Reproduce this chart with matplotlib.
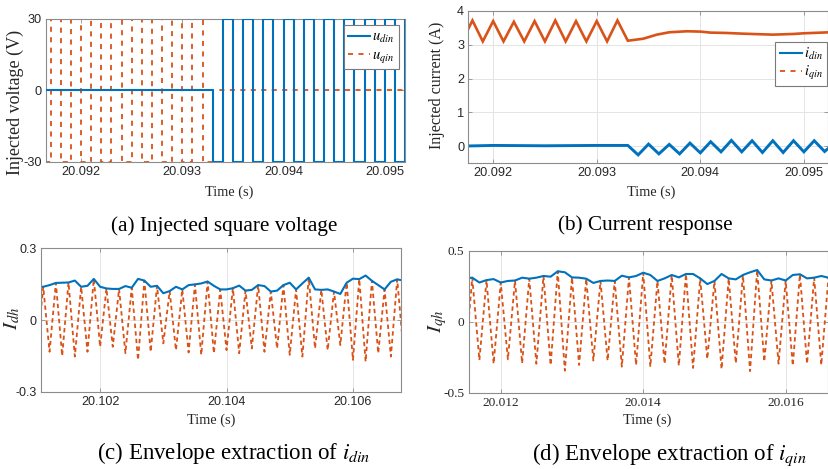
import numpy as np
import matplotlib
matplotlib.use('Agg')
import matplotlib.pyplot as plt
from matplotlib.lines import Line2D

plt.rcParams['mathtext.fontset'] = 'stix'
plt.rcParams['axes.unicode_minus'] = False

BLUE = '#0072BD'
ORANGE = '#D95319'
SPINE = '#8c8c8c'
GRID = '#e4e4e4'
SERIF = ['Liberation Serif', 'DejaVu Serif']
SANS = ['Liberation Sans', 'DejaVu Sans']

# ---------------- data ----------------
# (a) injected square voltage: levels on 0.1 ms intervals starting at 20.0915 s
a_t0, a_dt = 20.0915, 0.0001
u_qin = [30, -30, 30, -30, 30, -30, 30, -30, 30, -30, 30, -30, 30, -30, 30, -30, 30, -30,
         0, 0, 0, 0, 0, 0, 0, 0, 0, 0, 0, 0, 0, 0, 0, 0, 0, 0, 0, 0]
u_din = [0, 0, 0, 0, 0, 0, 0, 0, 0, 0, 0, 0, 0, 0, 0, 0, 0, 0,
         -30, 30, -30, 30, -30, 30, -30, 30, -30, 30, -30, 30, -30, 30, -30, 30, -30, 30, -30, 30]

# (b) current response (vertices)
t_iq = [20.0917, 20.0918, 20.0919, 20.0920, 20.0921, 20.0922, 20.0923, 20.0924, 20.0925,
        20.0926, 20.0927, 20.0928, 20.0929, 20.0930, 20.0931, 20.0932, 20.0933,
        20.09345, 20.09358, 20.0937, 20.09387, 20.0940, 20.0941, 20.09425, 20.0944,
        20.0946, 20.0947, 20.0949, 20.0950, 20.09525]
i_qin = [3.10, 3.72, 3.10, 3.70, 3.10, 3.68, 3.10, 3.70, 3.10,
         3.72, 3.10, 3.70, 3.10, 3.70, 3.10, 3.72, 3.12,
         3.18, 3.30, 3.37, 3.40, 3.39, 3.36, 3.35, 3.33,
         3.31, 3.30, 3.32, 3.34, 3.37]
t_id = [20.0917, 20.0920, 20.0925, 20.0930, 20.0933,
        20.0934, 20.0935, 20.0936, 20.0937, 20.0938, 20.0939, 20.0940, 20.0941,
        20.0942, 20.0943, 20.0944, 20.0945, 20.0946, 20.0947, 20.0948, 20.0949,
        20.0950, 20.0951, 20.0952, 20.0953]
i_din = [0.00, 0.02, 0.01, 0.02, 0.02,
         -0.26, 0.06, -0.23, 0.05, -0.23, 0.09, -0.20, 0.13,
         -0.17, 0.17, -0.17, 0.16, -0.19, 0.16, -0.19, 0.16,
         -0.17, 0.16, -0.16, 0.10]

# (c) envelope extraction of i_din, samples every 0.1 ms from 20.1010 s
c_t0, c_dt = 20.1010, 0.0001
i_dh = [-0.13,
        0.139, -0.133, 0.155, -0.150, 0.157, -0.153, 0.139, -0.133, 0.172, -0.112,
        0.132, -0.112, 0.130, -0.139, 0.135, -0.167, 0.165, -0.133, 0.143, -0.098,
        0.121, -0.126, 0.128, -0.136, 0.149, -0.146, 0.161, -0.139, 0.128, -0.126,
        0.133, -0.139, 0.123, -0.119, 0.146, -0.133, 0.119, -0.119, 0.146, -0.146,
        0.128, -0.153, 0.177, -0.119, 0.126, -0.126, 0.119, -0.105, 0.156, -0.167,
        0.171, -0.174, 0.164, -0.139, 0.128, -0.153, 0.170, -0.130]
env_d = [0.139,
         0.139, 0.146, 0.155, 0.156, 0.157, 0.165, 0.139, 0.143, 0.172, 0.139,
         0.132, 0.130, 0.130, 0.142, 0.135, 0.172, 0.165, 0.139, 0.143, 0.112,
         0.121, 0.139, 0.128, 0.146, 0.149, 0.153, 0.161, 0.143, 0.128, 0.128,
         0.133, 0.144, 0.123, 0.126, 0.146, 0.142, 0.119, 0.123, 0.146, 0.156,
         0.128, 0.153, 0.177, 0.128, 0.126, 0.128, 0.119, 0.109, 0.156, 0.173,
         0.171, 0.186, 0.164, 0.146, 0.128, 0.160, 0.170, 0.165]

# (d) envelope extraction of i_qin, samples every 0.1 ms from 20.0115 s
d_t0, d_dt = 20.0115, 0.0001
i_qh = [-0.28,
        0.310, -0.270, 0.293, -0.296, 0.276, -0.265, 0.290, -0.293, 0.303, -0.296,
        0.322, -0.305, 0.355, -0.345, 0.312, -0.305, 0.303, -0.274, 0.287, -0.274,
        0.287, -0.317, 0.312, -0.305, 0.345, -0.317, 0.287, -0.296, 0.329, -0.310,
        0.336, -0.326, 0.305, -0.262, 0.287, -0.333, 0.305, -0.293, 0.329, -0.348,
        0.364, -0.281, 0.290, -0.296, 0.290, -0.310, 0.334, -0.296, 0.310, -0.305,
        0.310]
env_q = [0.305,
         0.310, 0.276, 0.293, 0.300, 0.276, 0.287, 0.290, 0.310, 0.303, 0.310,
         0.322, 0.317, 0.355, 0.348, 0.312, 0.310, 0.303, 0.273, 0.287, 0.290,
         0.287, 0.324, 0.312, 0.322, 0.345, 0.329, 0.287, 0.305, 0.329, 0.312,
         0.336, 0.336, 0.305, 0.265, 0.287, 0.336, 0.305, 0.298, 0.329, 0.348,
         0.364, 0.298, 0.290, 0.305, 0.290, 0.329, 0.334, 0.305, 0.310, 0.322,
         0.310]

a_xticks = [20.092, 20.093, 20.094, 20.095]
a_yticks = [-30, 0, 30]
b_xticks = [20.092, 20.093, 20.094, 20.095]
b_yticks = [0, 1, 2, 3, 4]
c_xticks = [20.102, 20.104, 20.106]
c_yticks = [-0.3, 0, 0.3]
d_xticks = [20.012, 20.014, 20.016]
d_yticks = [-0.5, 0, 0.5]

# ---------------- figure ----------------
W, H = 829, 469
fig = plt.figure(figsize=(W / 100, H / 100), dpi=100)
fig.patch.set_facecolor('white')


def px_axes(l, t, r, b):
    return fig.add_axes([l / W, 1 - b / H, (r - l) / W, (b - t) / H])


def style(ax, xticks, yticks, xfmt, yfmt, fam, fs, grid):
    for s in ax.spines.values():
        s.set_color(SPINE)
        s.set_linewidth(0.8)
    ax.set_xticks(xticks)
    ax.set_yticks(yticks)
    ax.set_xticklabels([xfmt.format(v) for v in xticks], fontfamily=fam, fontsize=fs, color='#262626')
    ax.set_yticklabels([yfmt(v) for v in yticks], fontfamily=fam, fontsize=fs, color='#262626')
    ax.tick_params(direction='in', length=3, width=0.6, color=SPINE, top=True, right=True, pad=3)
    if grid:
        ax.grid(True, color=GRID, linewidth=0.7)
        ax.set_axisbelow(True)


def labels(ax, xl, xpos, yl, ypos, yfs, yfam=SERIF):
    ax.set_xlabel(xl, fontfamily=SERIF, fontsize=10.3, color='#262626')
    ax.xaxis.label.set_va('center')
    ax.xaxis.set_label_coords(*xpos)
    ax.set_ylabel(yl, fontfamily=yfam, fontsize=yfs, color='#262626')
    ax.yaxis.label.set_va('center')
    ax.yaxis.set_label_coords(*ypos)


# (a)
axa = px_axes(45.7, 19, 405, 161.7)
ta = a_t0 + a_dt * np.arange(len(u_din) + 1)
la, = axa.plot(ta, u_din + [u_din[-1]], drawstyle='steps-post', color=BLUE, lw=1.5,
               label=r'$u_{din}$', zorder=3)
lb, = axa.plot(ta, u_qin + [u_qin[-1]], drawstyle='steps-post', color=ORANGE, lw=1.3,
               dashes=(2.8, 3.0), label=r'$u_{qin}$', zorder=2)
axa.set_xlim(20.09165, 20.0952)
axa.set_ylim(-30, 30)
style(axa, a_xticks, a_yticks, '{:.3f}', lambda v: '%d' % v, SANS, 9.2, False)
labels(axa, 'Time (s)', (0.5115, -0.217), 'Injected voltage (V)', (-0.0854, 0.415), 13)
lega = axa.legend(loc='upper right', bbox_to_anchor=(0.983, 0.958), borderaxespad=0,
                  fontsize=10.5, handlelength=1.5, handletextpad=0.15, labelspacing=0.1,
                  borderpad=0.3, fancybox=False, framealpha=1)
lega.get_frame().set_edgecolor('#7a7a7a')
lega.get_frame().set_linewidth(0.8)

# (b)
axb = px_axes(468.3, 11, 827.7, 163)
axb.plot(t_iq, i_qin, color=ORANGE, lw=1.9, solid_joinstyle='miter')
axb.plot(t_id, i_din, color=BLUE, lw=2.1, solid_joinstyle='miter')
axb.set_xlim(20.09176, 20.09523)
axb.set_ylim(-0.5, 4)
style(axb, b_xticks, b_yticks, '{:.3f}', lambda v: '%d' % v, SANS, 9.2, True)
labels(axb, 'Time (s)', (0.509, -0.195), 'Injected current (A)', (-0.0863, 0.508), 11.6)
hb = [Line2D([], [], color=BLUE, lw=1.5), Line2D([], [], color=ORANGE, lw=1.3, dashes=(2.8, 3.0))]
legb = axb.legend(hb, [r'$i_{din}$', r'$i_{qin}$'], loc='upper right', bbox_to_anchor=(0.998, 0.796),
                  borderaxespad=0, fontsize=10.5, handlelength=1.5, handletextpad=0.15,
                  labelspacing=0.1, borderpad=0.3, fancybox=False, framealpha=1)
legb.get_frame().set_edgecolor('#7a7a7a')
legb.get_frame().set_linewidth(0.8)

# (c)
axc = px_axes(40.7, 248.3, 401, 391.7)
tc = c_t0 + c_dt * np.arange(len(i_dh))
axc.plot(tc, i_dh, color=ORANGE, lw=1.3, dashes=(2.4, 1.8))
axc.plot(tc, env_d, color=BLUE, lw=1.5)
axc.set_xlim(20.10106, 20.10676)
axc.set_ylim(-0.3, 0.3)
style(axc, c_xticks, c_yticks, '{:.3f}', lambda v: '0' if v == 0 else '%.1f' % v, SANS, 9.0, True)
labels(axc, 'Time (s)', (0.4735, -0.202), r'$I_{dh}$', (-0.0797, 0.514), 15)

# (d)
axd = px_axes(468.7, 250.7, 827.7, 392.7)
td = d_t0 + d_dt * np.arange(len(i_qh))
axd.plot(td, i_qh, color=ORANGE, lw=1.3, dashes=(2.4, 1.8))
axd.plot(td, env_q, color=BLUE, lw=1.5)
axd.set_xlim(20.01155, 20.01659)
axd.set_ylim(-0.5, 0.5)
style(axd, d_xticks, d_yticks, '{:.3f}', lambda v: '0' if v == 0 else '%.1f' % v, SERIF, 9.6, True)
labels(axd, 'Time (s)', (0.497, -0.197), r'$I_{qh}$', (-0.0869, 0.505), 15)

# captions
def caption(x, y, s, fs):
    fig.text(x / W, 1 - y / H, s, ha='center', va='center', fontsize=fs,
             fontfamily=SERIF, color='black')

caption(224, 226, '(a) Injected square voltage', 15.3)
caption(645, 225, '(b) Current response', 15.3)
caption(233.5, 453, r'(c) Envelope extraction of $i_{din}$', 16.5)
caption(669, 455, r'(d) Envelope extraction of $i_{qin}$', 16.5)

fig.savefig('out.png', dpi=100, facecolor='white')
